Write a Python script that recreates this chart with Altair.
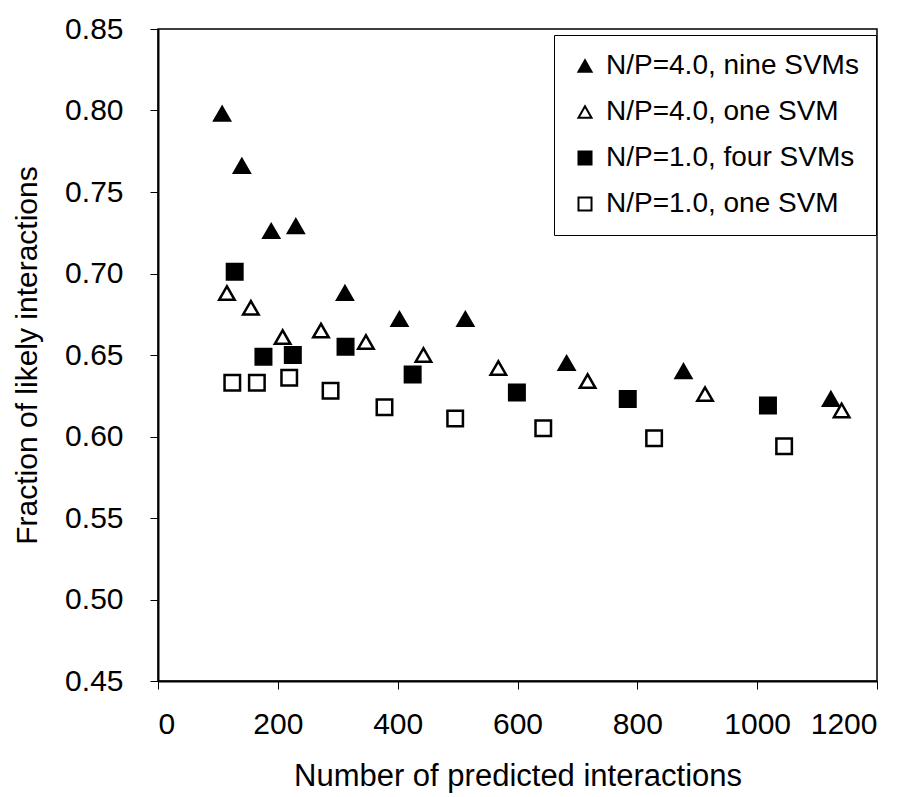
import altair as alt
import pandas as pd

series_names = ["N/P=4.0, nine SVMs", "N/P=4.0, one SVM",
                "N/P=1.0, four SVMs", "N/P=1.0, one SVM"]

nine_x = [107, 140, 189, 230, 312, 403, 513, 682, 877, 1123]
nine_y = [0.798, 0.766, 0.726, 0.729, 0.688, 0.672, 0.672, 0.645, 0.640, 0.623]

one4_x = [115, 155, 208, 272, 347, 443, 568, 717, 913, 1141]
one4_y = [0.688, 0.679, 0.661, 0.665, 0.658, 0.650, 0.642, 0.634, 0.626, 0.616]

four_x = [128, 176, 225, 313, 425, 599, 784, 1018]
four_y = [0.701, 0.649, 0.650, 0.655, 0.638, 0.627, 0.623, 0.619]

one1_x = [124, 165, 219, 288, 378, 496, 643, 828, 1045]
one1_y = [0.633, 0.633, 0.636, 0.628, 0.618, 0.611, 0.605, 0.599, 0.594]

x_ticks = [0, 200, 400, 600, 800, 1000, 1200]
y_ticks = [0.45, 0.50, 0.55, 0.60, 0.65, 0.70, 0.75, 0.80, 0.85]

rows = []
for name, xs, ys in zip(series_names,
                        [nine_x, one4_x, four_x, one1_x],
                        [nine_y, one4_y, four_y, one1_y]):
    for xv, yv in zip(xs, ys):
        rows.append({"series": name, "x": xv, "y": yv})
df = pd.DataFrame(rows)

FONT = "Liberation Sans"


def make_legend():
    return alt.Legend(title=None, symbolStrokeWidth=2,
                      symbolSize=170, labelLimit=500)


chart = alt.Chart(df).mark_point(
    filled=True, strokeWidth=2.5, size=240, opacity=1
).encode(
    x=alt.X("x:Q", scale=alt.Scale(domain=[0, 1200], nice=False),
            axis=alt.Axis(title="Number of predicted interactions", values=x_ticks,
                          format="d", grid=False)),
    y=alt.Y("y:Q", scale=alt.Scale(domain=[0.45, 0.85], nice=False, zero=False),
            axis=alt.Axis(title="Fraction of likely interactions", values=y_ticks,
                          format=".2f", grid=False)),
    shape=alt.Shape("series:N", scale=alt.Scale(
        domain=series_names,
        range=["triangle-up", "triangle-up", "square", "square"]),
        legend=make_legend()),
    fill=alt.Fill("series:N", scale=alt.Scale(
        domain=series_names, range=["black", "white", "black", "white"]),
        legend=make_legend()),
    stroke=alt.Stroke("series:N", scale=alt.Scale(
        domain=series_names, range=["black", "black", "black", "black"]),
        legend=make_legend()),
).properties(
    width=719, height=652,
    autosize=alt.AutoSizeParams(type="none"),
    padding={"left": 150, "top": 21, "right": 30, "bottom": 115},
    background="white",
).configure_view(
    stroke="black", strokeWidth=1.5
).configure_axis(
    domainColor="black", domainWidth=2, tickColor="black", tickSize=8,
    tickWidth=1, labelFont=FONT, labelColor="black", titleFont=FONT,
    titleColor="black", titleFontWeight="normal",
).configure_axisX(
    labelFontSize=30, labelPadding=20, titleFontSize=31, titlePadding=22,
).configure_axisY(
    labelFontSize=30, labelPadding=27, titleFontSize=30, titlePadding=22,
).configure_legend(
    orient="none", legendX=396, legendY=6,
    labelFont=FONT, labelFontSize=28, labelColor="black",
    rowPadding=18, padding=17, strokeColor="black", fillColor="white",
    labelOffset=7, labelLimit=500,
)

chart.save("out.html", embed_options={"renderer": "svg", "actions": False})
